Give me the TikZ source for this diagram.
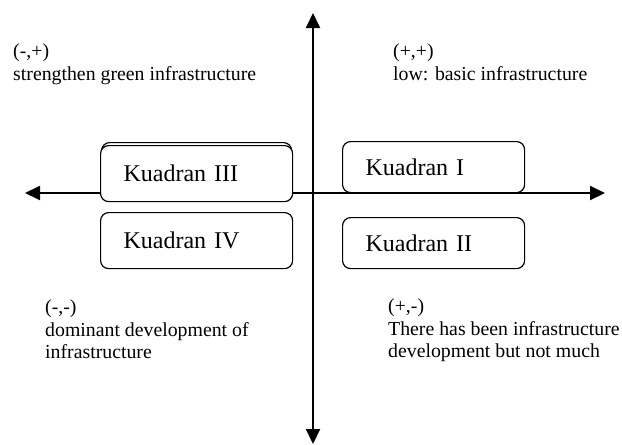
\documentclass[tikz,border=0pt]{standalone}
\usepackage{fontspec}
\setmainfont{Liberation Serif}
\usetikzlibrary{arrows.meta}
\begin{document}
\begin{tikzpicture}[x=1pt,y=-1pt,
  axis/.style={line width=2pt,{Triangle[length=15pt,width=14pt]}-{Triangle[length=15pt,width=14pt]}},
  quad/.style={draw,line width=1.2pt,rounded corners=8pt,fill=white,anchor=north west,
    inner xsep=23pt,inner ysep=0pt,align=left,font=\fontsize{24}{28}\selectfont},
  note/.style={inner sep=0pt,anchor=north west,align=left,font=\fontsize{19.8}{22.3}\selectfont}]
\useasboundingbox (0,0) rectangle (622,445);
% axes
\coordinate (W) at (25,193);
\coordinate (E) at (605,193);
\coordinate (N) at (313,13);
\coordinate (S) at (313,444);
\draw[axis] (W) -- (E);
\draw[axis] (N) -- (S);
% boxes
\node[quad,minimum width=190pt,minimum height=56pt,text width=144pt] (q3back) at (101,142) {};
\node[quad,minimum width=192pt,minimum height=56pt,text width=146pt] (q3) at (100,145) {Kuadran III};
\node[quad,minimum width=192pt,minimum height=56pt,text width=146pt] (q4) at (100,212) {Kuadran IV};
\node[quad,minimum width=182pt,minimum height=51pt,text width=136pt] (q1) at (342,141) {Kuadran I};
\node[quad,minimum width=182pt,minimum height=51pt,text width=136pt] (q2) at (342,217) {Kuadran II};
% notes
\node[note] (n3) at (13,44) {(-,+)\\strengthen green infrastructure};
\node[note] (n1) at (393,44) {(+,+)\\low: basic infrastructure};
\node[note] (n4) at (45,300) {(-,-)\\dominant development of\\infrastructure};
\node[note] (n2) at (388,299) {(+,-)\\There has been infrastructure\\development but not much};
\end{tikzpicture}
\end{document}
